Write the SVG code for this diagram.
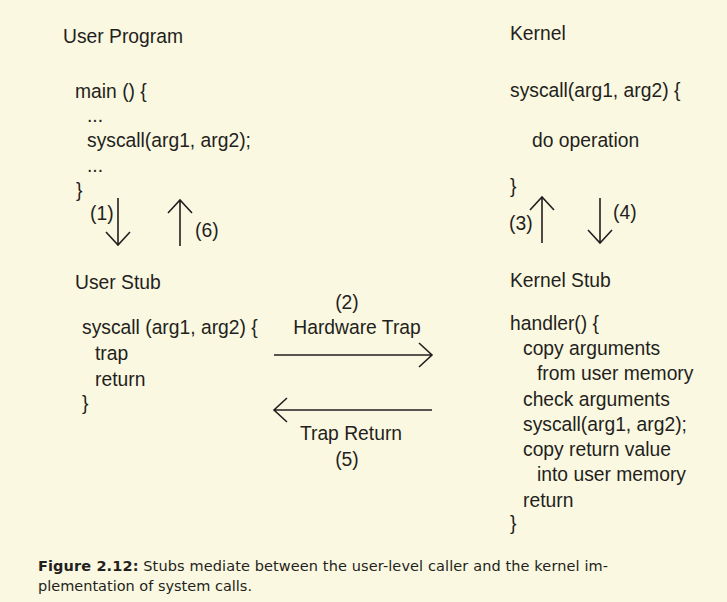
<svg xmlns="http://www.w3.org/2000/svg" width="727" height="602" viewBox="0 0 727 602">
<style>
text{font-family:"Liberation Sans",Arial,sans-serif;font-size:19.3px;fill:#231f20}
.cap{font-family:"DejaVu Sans",sans-serif;font-size:14.5px}
.arr{stroke:#231f20;stroke-width:1.6;fill:none}
</style>
<rect width="727" height="602" fill="#fbf8e1"/>
<g id="user-program">
<text x="63" y="43">User Program</text>
<text x="75" y="98">main () {</text>
<text x="87" y="122">...</text>
<text x="87" y="147">syscall(arg1, arg2);</text>
<text x="87" y="172">...</text>
<text x="76" y="197">}</text>
</g>
<g id="kernel">
<text x="510" y="40">Kernel</text>
<text x="510" y="97">syscall(arg1, arg2) {</text>
<text x="532" y="147">do operation</text>
<text x="510" y="193">}</text>
</g>
<g id="user-stub">
<text x="75" y="289">User Stub</text>
<text x="82" y="334">syscall (arg1, arg2) {</text>
<text x="95" y="360">trap</text>
<text x="95" y="386">return</text>
<text x="82" y="410">}</text>
</g>
<g id="kernel-stub">
<text x="510" y="287">Kernel Stub</text>
<text x="510" y="330">handler() {</text>
<text x="523" y="355">copy arguments</text>
<text x="537" y="380">from user memory</text>
<text x="523" y="406">check arguments</text>
<text x="523" y="431">syscall(arg1, arg2);</text>
<text x="523" y="456">copy return value</text>
<text x="537" y="481">into user memory</text>
<text x="523" y="507">return</text>
<text x="510" y="530">}</text>
</g>
<g id="connectors">
<path class="arr" d="M118 198V245M106 232L118 245L130 232"/>
<path class="arr" d="M180 246V200M168 213L180 200L192 213"/>
<path class="arr" d="M542 243V197M530 210L542 197L554 210"/>
<path class="arr" d="M600 198V243M588 230L600 243L612 230"/>
<path class="arr" d="M274 355H432M419 343L432 355L419 367"/>
<path class="arr" d="M432 410H274M287 398L274 410L287 422"/>
<text x="90" y="220">(1)</text>
<text x="195" y="237">(6)</text>
<text x="509" y="230">(3)</text>
<text x="613" y="219">(4)</text>
<text x="347" y="309" text-anchor="middle">(2)</text>
<text x="357" y="334" text-anchor="middle">Hardware Trap</text>
<text x="351" y="440" text-anchor="middle">Trap Return</text>
<text x="347" y="466" text-anchor="middle">(5)</text>
</g>
<g id="caption">
<text class="cap" x="38" y="571" textLength="570" lengthAdjust="spacing"><tspan font-weight="bold">Figure 2.12:</tspan> Stubs mediate between the user-level caller and the kernel im-</text>
<text class="cap" x="38" y="591" textLength="214" lengthAdjust="spacing">plementation of system calls.</text>
</g>
</svg>
